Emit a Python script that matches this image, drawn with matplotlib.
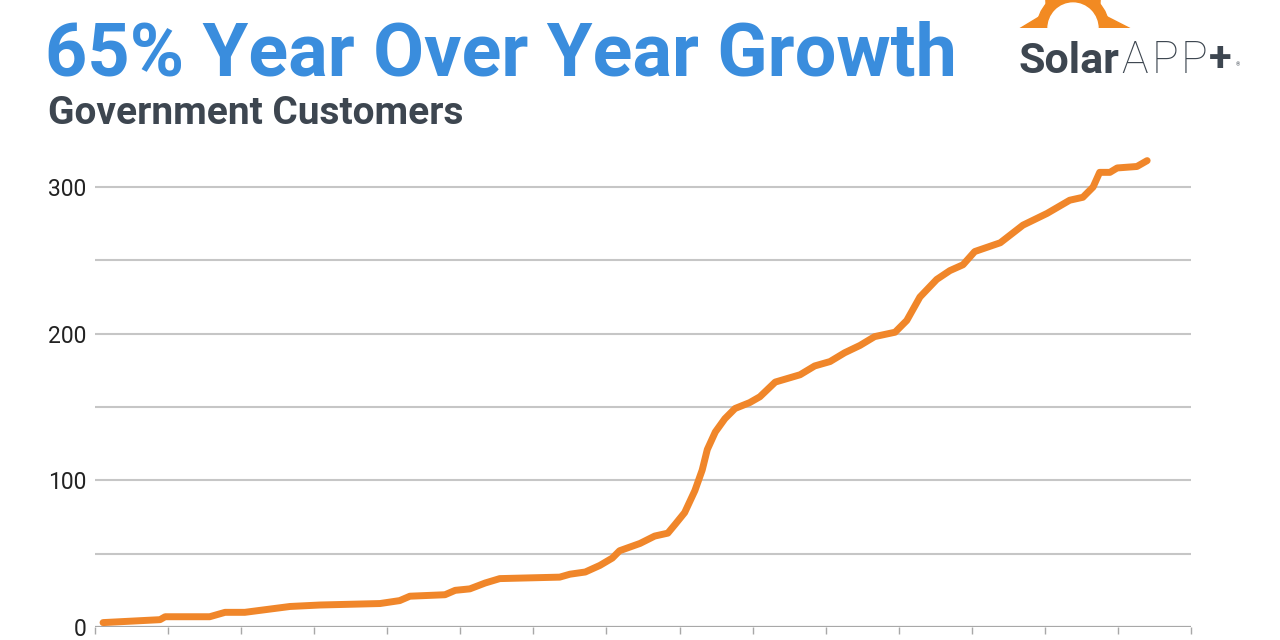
import matplotlib
import matplotlib.pyplot as plt
from matplotlib.patches import Circle, Polygon
import numpy as np

# cumulative government customers, x in tick periods (15 periods on the axis)
period = [0.11, 0.89, 0.96, 1.57, 1.78, 2.05, 2.67, 3.08, 3.90, 4.17,
          4.31, 4.79, 4.93, 5.13, 5.34, 5.54, 6.36, 6.50, 6.71, 6.91,
          7.08, 7.18, 7.46, 7.66, 7.84, 7.94, 8.07, 8.21, 8.31, 8.38,
          8.49, 8.62, 8.76, 8.96, 9.10, 9.31, 9.65, 9.85, 10.06, 10.26,
          10.47, 10.67, 10.95, 11.11, 11.29, 11.52, 11.70, 11.88, 12.04, 12.39,
          12.70, 13.03, 13.34, 13.52, 13.66, 13.75, 13.89, 13.99, 14.26, 14.40]
customers = [3, 5, 7, 7, 10, 10, 14, 15, 16, 18,
             21, 22, 25, 26, 30, 33, 34, 36, 37.5, 42,
             47, 52, 57, 62, 64, 70, 78, 93, 107, 121,
             133, 142, 149, 153, 157, 167, 172, 178, 181, 187,
             192, 198, 201, 209, 225, 237, 243, 247, 256, 262,
             274, 282, 291, 293, 300, 310, 310, 313, 314, 318]
y_labels = [0, 100, 200, 300]
n_periods = 15

W, H = 1280, 640
matplotlib.rc('font', family=['Roboto', 'DejaVu Sans'])
fig = plt.figure(figsize=(12.8, 6.4), dpi=100)
fig.patch.set_facecolor('white')

# main chart
ax = fig.add_axes([95 / W, 13 / H, (1191 - 95) / W, 0.7333])
ax.set_xlim(0, n_periods)
ax.set_ylim(0, 320)
for v in range(50, 301, 50):
    ax.axhline(v, color='#c6c6c6', lw=1.5, zorder=1)
ax.axhline(0, color='#a8a8a8', lw=1.6, zorder=1)
ax.plot(period, customers, color='#f0862a', lw=5, solid_capstyle='round',
        solid_joinstyle='round', zorder=3, clip_on=False)

ax.set_yticks(y_labels)
ax.set_yticklabels([str(v) for v in y_labels])
ax.set_xticks(range(n_periods + 1))
ax.set_xticklabels([])
ax.tick_params(axis='y', length=0, pad=6, labelsize=16.5, labelcolor='#222222')
ax.tick_params(axis='x', length=5, width=1, color='#a8a8a8', direction='out')
for s in ax.spines.values():
    s.set_visible(False)

# titles
fig.text(45 / W, 1 - 75 / H, "65% Year Over Year Growth", fontsize=53.2,
         fontweight='bold', color='#3a8ddd', va='baseline', ha='left')
fig.text(48 / W, 1 - 124 / H, "Government Customers", fontsize=28,
         fontweight='bold', color='#3d4650', va='baseline', ha='left')

# logo text
fig.text(1018 / W, 1 - 73 / H, "Solar", fontsize=31, fontweight='bold',
         color='#3d4650', va='baseline', ha='left')
for letter, lx in [("A", 1121), ("P", 1152), ("P", 1181)]:
    fig.text(lx / W, 1 - 73 / H, letter, fontsize=32, fontweight='light',
             color='#3d4650', va='baseline', ha='left')
fig.text(1209 / W, 1 - 71 / H, "+", fontsize=30, fontweight='bold',
         color='#3d4650', va='baseline', ha='left')
fig.text(1236 / W, 1 - 66 / H, "®", fontsize=4, color='#3d4650',
         va='baseline', ha='left')

# logo sun (cropped at top of the image)
sun = fig.add_axes([1000 / W, 1 - 28 / H, 150 / W, 28 / H])
sun.set_xlim(1000, 1150)
sun.set_ylim(27.5, 0)
sun.axis('off')
cx, cy = 1073, 28
orange = '#f28a22'
for ang, reach in [(0, 57), (60, 56), (120, 56), (180, 53)]:
    a = np.radians(ang)
    half = np.radians(22)
    tip = (cx + reach * np.cos(a), cy - reach * np.sin(a))
    b1 = (cx + 34 * np.cos(a - half), cy - 34 * np.sin(a - half))
    b2 = (cx + 34 * np.cos(a + half), cy - 34 * np.sin(a + half))
    sun.add_patch(Polygon([tip, b1, b2], closed=True, color=orange))
sun.add_patch(Circle((cx, cy), 36, color=orange))
sun.add_patch(Circle((cx, cy), 25, color='white'))

plt.savefig("out.png", dpi=100, facecolor='white')
